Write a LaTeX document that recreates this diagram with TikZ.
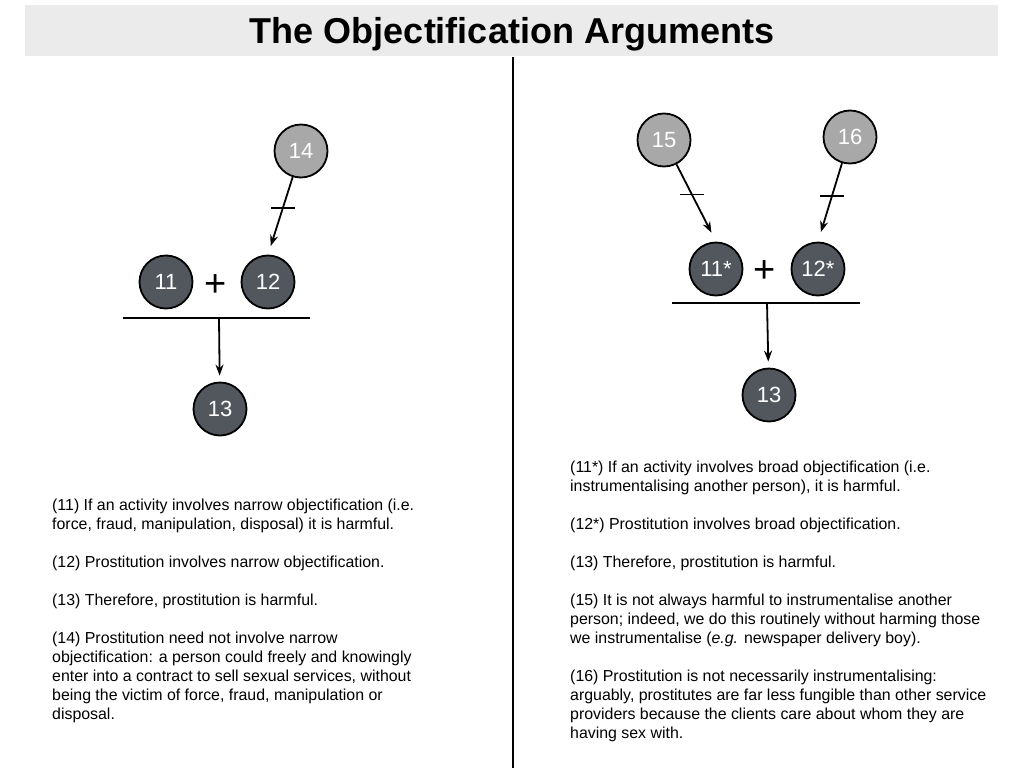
\documentclass[tikz,border=0pt]{standalone}
\usepackage{fontspec}
\setmainfont{Liberation Sans}
\usetikzlibrary{calc,arrows.meta}
\definecolor{claimdark}{HTML}{52565D}
\definecolor{objgrey}{HTML}{A8A8A8}
\definecolor{titlegrey}{HTML}{EBEBEB}
\tikzset{
  claim_node/.style={circle, draw=black, line width=1.8pt, fill=claimdark,
      minimum size=53pt, inner sep=0pt, text=white,
      font=\fontsize{22}{26}\selectfont},
  objection_node/.style={claim_node, fill=objgrey},
  plus_sign/.style={font=\fontsize{38}{40}\selectfont},
  text_block/.style={anchor=north west, align=left, inner sep=0pt,
      font=\fontsize{15.9}{19}\selectfont},
  support/.style={-{Stealth[length=11pt,width=8pt]}, line width=1.8pt}
}
\def\PixUnit {1pt}

\begin{document}
\begin{tikzpicture}[x=\PixUnit, y=-\PixUnit]
        \useasboundingbox (0,0) rectangle (1024,768);
        % title bar and divider
        \fill[titlegrey] (25,5) rectangle (998,56);
        \node[font=\fontsize{36}{40}\selectfont\bfseries, anchor=base] (title) at (512,44) {The Objectification Arguments};
        \coordinate (div_top) at (513,57);
        \coordinate (div_bot) at (513,768);
        \draw[line width=1.8pt] (div_top) -- (div_bot);

        % left argument
        \node[objection_node] (n14) at (301,151) {14};
        \node[claim_node] (n11) at (166,282) {11};
        \node[claim_node] (n12) at (268,282) {12};
        \node[plus_sign] (plusL) at (216,286) {+};
        \node[claim_node] (n13L) at (220,409) {13};
        \coordinate (barL_a) at (123,318);
        \coordinate (barL_b) at (310,318);
        \coordinate (barL_m) at (219,318);
        \draw[line width=2pt] (barL_a) -- (barL_b);
        \draw[support, shorten >=6pt] (barL_m) -- (n13L);
        \draw[support, shorten >=9pt] (n14) -- (n12.north) coordinate[pos=0.4] (t14);
        \draw[line width=1.6pt] ([xshift=-12]t14) -- ([xshift=12]t14);

        % right argument
        \node[objection_node] (n15) at (664,140) {15};
        \node[objection_node] (n16) at (850,137) {16};
        \node[claim_node] (n11s) at (716,269) {11*};
        \node[claim_node] (n12s) at (818,269) {12*};
        \node[plus_sign] (plusR) at (765,272) {+};
        \node[claim_node] (n13R) at (769,395) {13};
        \coordinate (barR_a) at (672,303);
        \coordinate (barR_b) at (860,303);
        \coordinate (barR_m) at (767,303);
        \draw[line width=2pt] (barR_a) -- (barR_b);
        \draw[support, shorten >=6pt] (barR_m) -- (n13R);
        \draw[support, shorten >=10pt] (n15) -- (n11s.north) coordinate[pos=0.39] (t15);
        \draw[support, shorten >=10pt] (n16) -- (n12s.north) coordinate[pos=0.42] (t16);
        \foreach \t in {t15,t16} {
            \draw[line width=1.6pt] ([xshift=-12]\t) -- ([xshift=12]\t);
          }

        % statements
        \node[text_block] (textL) at (52,499) {%
          (11) If an activity involves narrow objectification (i.e.\\
          force, fraud, manipulation, disposal) it is harmful.\\[19pt]
          (12) Prostitution involves narrow objectification.\\[19pt]
          (13) Therefore, prostitution is harmful.\\[19pt]
          (14) Prostitution need not involve narrow\\
          objectification: a person could freely and knowingly\\
          enter into a contract to sell sexual services, without\\
          being the victim of force, fraud, manipulation or\\
          disposal.};
        \node[text_block] (textR) at (570,461) {%
          (11*) If an activity involves broad objectification (i.e.\\
          instrumentalising another person), it is harmful.\\[19pt]
          (12*) Prostitution involves broad objectification.\\[19pt]
          (13) Therefore, prostitution is harmful.\\[19pt]
          (15) It is not always harmful to instrumentalise another\\
          person; indeed, we do this routinely without harming those\\
          we instrumentalise (\textit{e.g.} newspaper delivery boy).\\[19pt]
          (16) Prostitution is not necessarily instrumentalising:\\
          arguably, prostitutes are far less fungible than other service\\
          providers because the clients care about whom they are\\
          having sex with.};
      \end{tikzpicture}
\end{document}
